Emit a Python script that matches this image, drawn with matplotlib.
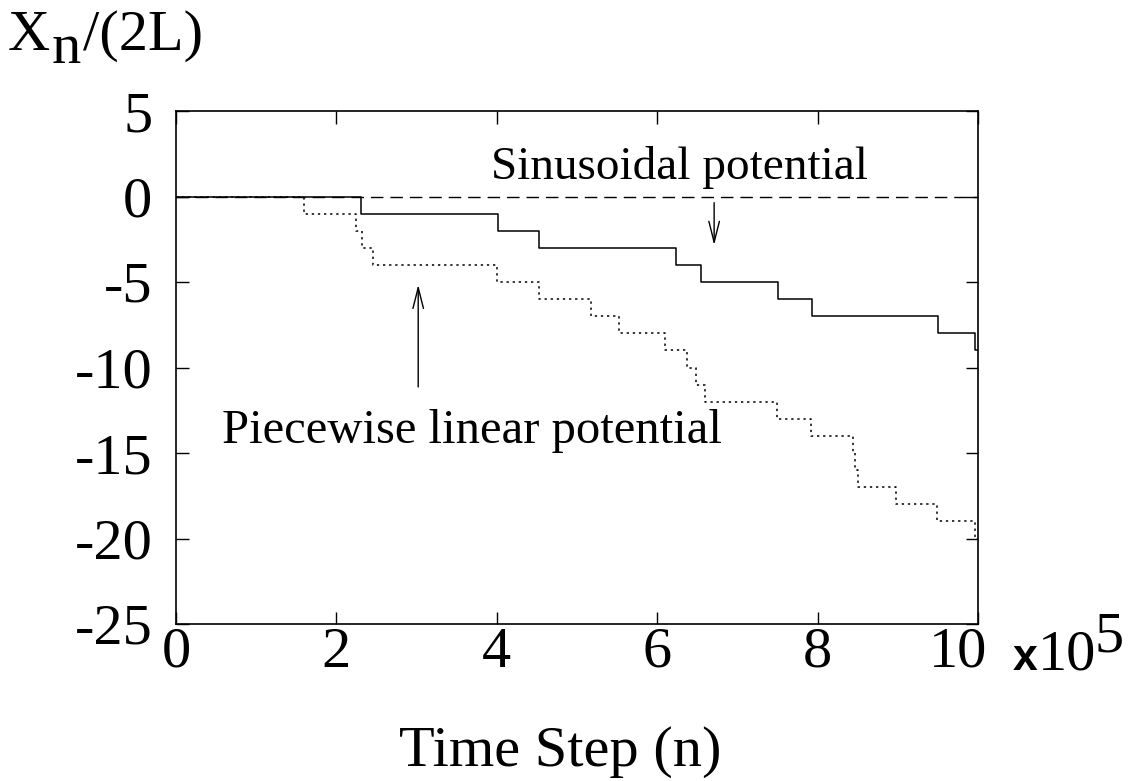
import matplotlib
matplotlib.use('Agg')
import matplotlib.pyplot as plt
import matplotlib.transforms as mtransforms

# step positions (units of 1e5 time steps) and levels X_n/(2L)
sinTimes = [0, 2.31, 4.02, 4.53, 6.23, 6.55, 7.50, 7.93, 9.50, 9.96, 10.0]
sinLevels = [0, -1, -2, -3, -4, -5, -6, -7, -8, -9, -9]

pwlTimes = [0, 1.60, 2.25, 2.32, 2.46, 4.00, 4.52, 5.17, 5.52, 6.10, 6.37, 6.48,
            6.60, 7.49, 7.92, 8.44, 8.47, 8.50, 8.98, 9.49, 9.96, 10.0]
pwlLevels = [0, -1, -2, -3, -4, -5, -6, -7, -8, -9, -10, -11,
             -12, -13, -14, -15, -16, -17, -18, -19, -20, -20]

xticks = [0, 2, 4, 6, 8, 10]
yticks = [5, 0, -5, -10, -15, -20, -25]

plt.rcParams['font.family'] = ['Liberation Serif', 'DejaVu Serif']

W, H = 1133, 781
FS = 42
fig = plt.figure(figsize=(W / 100.0, H / 100.0), dpi=100)
ax = fig.add_axes([176.0 / W, 1 - 624.0 / H, (978.0 - 176.0) / W, (624.0 - 111.0) / H])

ax.axhline(0, color='black', linewidth=1.0, dashes=(9, 5))
ax.step(sinTimes, sinLevels, where='post', color='black', linewidth=1.1)
ax.step(pwlTimes, pwlLevels, where='post', color='black', linewidth=1.1,
        dashes=(1.5, 2.5))

ax.set_xlim(0, 10)
ax.set_ylim(-25, 5)
ax.set_xticks(xticks)
ax.set_yticks(yticks)
ax.set_xticklabels([str(v) for v in xticks])
ax.set_yticklabels([str(v) for v in yticks])
ax.tick_params(direction='in', length=9, width=1, labelsize=FS,
               top=True, right=True)
ax.tick_params(axis='y', pad=17)
ax.tick_params(axis='x', pad=2)
for sp in ax.spines.values():
    sp.set_linewidth(1.2)

# the "10" label sits a little left of its tick in the original
lab10 = ax.get_xticklabels()[-1]
lab10.set_transform(lab10.get_transform() +
                    mtransforms.ScaledTranslation(-0.2, 0, fig.dpi_scale_trans))

arrow = dict(arrowstyle='->,head_length=1.5,head_width=0.38', color='black', lw=1.0)

# annotations
ax.text(6.28, 1.05, 'Sinusoidal potential', fontsize=34, ha='center', va='baseline')
ax.annotate('', xy=(6.71, -3.0), xytext=(6.71, -0.2), arrowprops=arrow)
ax.text(3.69, -14.4, 'Piecewise linear potential', fontsize=35, ha='center',
        va='baseline')
ax.annotate('', xy=(3.02, -5.0), xytext=(3.02, -11.3), arrowprops=arrow)

# y axis label  X_n/(2L), subscript n kept at full size as in the original
fig.text(8.0 / W, 1 - 50.0 / H, 'X', fontsize=FS, ha='left', va='baseline')
fig.text(52.0 / W, 1 - 63.0 / H, 'n', fontsize=FS, ha='left', va='baseline')
fig.text(83.0 / W, 1 - 50.0 / H, '/(2L)', fontsize=FS, ha='left', va='baseline')

# x axis label and multiplier
fig.text(560.0 / W, 1 - 766.0 / H, 'Time Step (n)', fontsize=FS,
         ha='center', va='baseline')
fig.text(1013.0 / W, 1 - 670.0 / H, 'x', fontsize=32, fontweight='bold',
         family='Liberation Sans', ha='left', va='baseline')
fig.text(1038.0 / W, 1 - 670.0 / H, '10', fontsize=FS, ha='left', va='baseline')
fig.text(1094.0 / W, 1 - 652.0 / H, '5', fontsize=FS, ha='left', va='baseline')

fig.savefig('out.png', dpi=100)
